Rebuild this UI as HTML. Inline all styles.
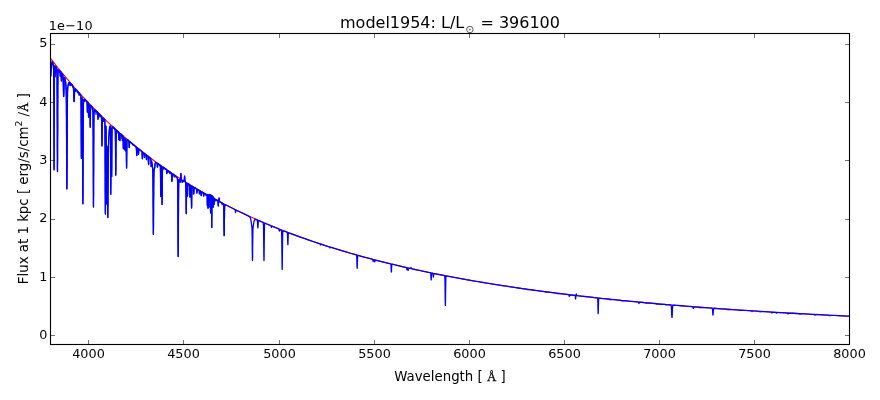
<!DOCTYPE html>
<html lang="en"><head><meta charset="utf-8"><title>model1954 spectrum</title>
<style>html,body{margin:0;padding:0;background:#fff;}body{width:880px;height:400px;overflow:hidden;}svg{display:block;}</style></head>
<body>
<svg width="880" height="400" viewBox="0 0 880 400">
<rect x="0" y="0" width="880" height="400" fill="#ffffff"/>
<defs><clipPath id="ax"><rect x="50.50" y="33.50" width="799.00" height="311.00"/></clipPath></defs>
<g clip-path="url(#ax)" fill="none" stroke-linejoin="round" stroke-linecap="butt">
<polyline points="50.5,58.29 54.5,63.45 58.5,68.48 62.5,73.40 66.5,78.21 70.5,82.91 74.5,87.51 78.5,92.00 82.5,96.39 86.5,100.69 90.5,104.89 94.5,108.99 98.5,113.01 102.5,116.94 106.5,120.78 110.5,124.54 114.5,128.22 118.5,131.82 122.5,135.34 126.5,138.78 130.5,142.16 134.5,145.46 138.5,148.69 142.5,151.86 146.5,154.95 150.5,157.99 154.5,160.96 158.5,163.87 162.5,166.72 166.5,169.51 170.5,172.24 174.5,174.92 178.5,177.54 182.5,180.11 186.5,182.63 190.5,185.10 194.5,187.52 198.5,189.89 202.5,192.22 206.5,194.49 210.5,196.73 214.5,198.92 218.5,201.06 222.5,203.17 226.5,205.23 230.5,207.26 234.5,209.24 238.5,211.19 242.5,213.10 246.5,214.97 250.5,216.81 254.5,218.61 258.5,220.38 262.5,222.12 266.5,223.82 270.5,225.49 274.5,227.13 278.5,228.74 282.5,230.32 286.5,231.88 290.5,233.40 294.5,234.89 298.5,236.36 302.5,237.80 306.5,239.22 310.5,240.61 314.5,241.98 318.5,243.32 322.5,244.63 326.5,245.93 330.5,247.20 334.5,248.45 338.5,249.67 342.5,250.88 346.5,252.06 350.5,253.22 354.5,254.37 358.5,255.49 362.5,256.59 366.5,257.68 370.5,258.75 374.5,259.80 378.5,260.83 382.5,261.84 386.5,262.83 390.5,263.81 394.5,264.78 398.5,265.72 402.5,266.65 406.5,267.57 410.5,268.47 414.5,269.36 418.5,270.23 422.5,271.08 426.5,271.93 430.5,272.76 434.5,273.57 438.5,274.37 442.5,275.16 446.5,275.94 450.5,276.70 454.5,277.46 458.5,278.20 462.5,278.92 466.5,279.64 470.5,280.35 474.5,281.04 478.5,281.72 482.5,282.40 486.5,283.06 490.5,283.71 494.5,284.35 498.5,284.98 502.5,285.61 506.5,286.22 510.5,286.82 514.5,287.42 518.5,288.00 522.5,288.58 526.5,289.14 530.5,289.70 534.5,290.25 538.5,290.80 542.5,291.33 546.5,291.86 550.5,292.37 554.5,292.88 558.5,293.39 562.5,293.88 566.5,294.37 570.5,294.85 574.5,295.33 578.5,295.79 582.5,296.25 586.5,296.71 590.5,297.15 594.5,297.59 598.5,298.03 602.5,298.46 606.5,298.88 610.5,299.30 614.5,299.71 618.5,300.11 622.5,300.51 626.5,300.90 630.5,301.29 634.5,301.67 638.5,302.05 642.5,302.42 646.5,302.78 650.5,303.15 654.5,303.50 658.5,303.85 662.5,304.20 666.5,304.54 670.5,304.88 674.5,305.21 678.5,305.54 682.5,305.86 686.5,306.18 690.5,306.50 694.5,306.81 698.5,307.11 702.5,307.41 706.5,307.71 710.5,308.01 714.5,308.30 718.5,308.58 722.5,308.87 726.5,309.15 730.5,309.42 734.5,309.69 738.5,309.96 742.5,310.23 746.5,310.49 750.5,310.74 754.5,311.00 758.5,311.25 762.5,311.50 766.5,311.74 770.5,311.98 774.5,312.22 778.5,312.46 782.5,312.69 786.5,312.92 790.5,313.15 794.5,313.37 798.5,313.59 802.5,313.81 806.5,314.03 810.5,314.24 814.5,314.45 818.5,314.66 822.5,314.86 826.5,315.06 830.5,315.26 834.5,315.46 838.5,315.65 842.5,315.85 846.5,316.04 849.5,316.18" stroke="#ff0000" stroke-width="1.11"/>
<polyline points="50.5,75.87 50.5,76.16 50.6,76.31 50.6,76.31 50.7,76.16 50.7,75.87 50.8,74.90 50.9,73.52 51.1,70.99 51.3,67.51 51.4,65.31 51.5,64.16 51.6,63.27 51.8,62.38 51.9,61.93 52.1,61.78 52.5,62.13 53.1,63.40 53.4,64.14 53.5,64.33 53.5,64.63 53.6,65.25 53.6,66.55 53.7,69.22 53.7,74.24 53.8,82.76 53.8,95.62 53.9,112.70 53.9,132.30 54.0,151.04 54.0,164.71 54.1,169.78 54.1,164.85 54.2,151.31 54.2,132.70 54.3,113.24 54.3,96.29 54.4,83.56 54.4,75.18 54.5,70.30 54.5,67.76 54.6,66.59 54.6,66.12 54.7,65.94 55.0,65.95 55.6,66.43 56.3,67.36 56.7,68.30 56.8,68.76 56.9,69.27 56.9,70.23 57.0,71.99 57.0,75.07 57.1,80.11 57.1,87.78 57.2,98.50 57.2,112.18 57.3,127.95 57.3,144.09 57.4,158.28 57.4,168.06 57.5,171.59 57.5,168.17 57.6,158.50 57.6,144.43 57.7,128.40 57.7,112.74 57.8,99.18 57.8,88.58 57.9,81.02 57.9,76.09 58.0,73.12 58.0,71.47 58.1,70.63 58.1,70.23 58.2,69.98 58.9,70.11 59.9,70.87 60.9,72.00 61.0,72.32 61.0,72.62 61.1,73.08 61.1,73.76 61.2,74.68 61.2,75.85 61.3,78.56 61.4,79.77 61.4,80.63 61.5,80.97 61.5,80.75 61.6,80.02 61.6,78.93 61.7,76.47 61.8,75.43 61.8,74.62 61.9,74.07 61.9,73.73 62.0,73.49 62.3,73.71 62.7,74.38 62.8,74.93 62.9,75.66 63.0,76.22 63.0,76.94 63.1,77.87 63.1,79.03 63.2,80.43 63.2,82.08 63.3,83.94 63.4,90.22 63.5,92.21 63.5,93.94 63.6,95.29 63.6,96.17 63.7,96.53 63.7,96.32 63.8,95.58 63.8,94.37 63.9,92.79 63.9,90.95 64.1,85.12 64.1,83.41 64.2,81.92 64.2,80.67 64.3,79.68 64.3,78.91 64.4,78.36 64.4,77.98 64.5,77.61 64.7,77.64 64.9,78.33 65.2,79.39 65.4,80.81 65.7,82.59 65.9,84.29 66.0,85.39 66.0,86.09 66.1,87.00 66.1,88.20 66.2,89.86 66.2,92.16 66.3,95.32 66.3,99.58 66.4,105.16 66.4,112.21 66.5,120.77 66.5,130.70 66.6,141.65 66.6,153.06 66.7,164.16 66.7,174.09 66.8,181.98 66.8,187.08 66.9,188.87 66.9,187.19 67.0,182.21 67.0,174.44 67.1,164.62 67.1,153.64 67.2,142.35 67.2,131.51 67.3,121.69 67.3,113.25 67.4,106.31 67.4,100.85 67.5,96.71 67.5,93.66 67.6,91.48 67.6,89.93 67.7,88.84 67.7,88.06 67.8,87.46 67.9,86.60 68.1,85.08 68.4,83.94 68.6,83.15 68.9,82.63 69.3,82.47 70.0,82.85 71.9,84.91 73.0,86.32 73.2,86.84 73.3,87.37 73.4,88.27 73.5,88.91 73.5,89.71 73.6,90.68 73.6,91.80 73.7,94.47 73.8,97.35 73.9,98.70 73.9,99.88 74.0,100.80 74.0,101.41 74.1,101.65 74.1,101.52 74.2,101.03 74.2,100.22 74.3,99.15 74.4,96.59 74.5,93.97 74.5,92.81 74.6,91.80 74.6,90.95 74.7,90.26 74.7,89.73 74.8,89.05 74.9,88.75 75.1,88.67 76.5,89.98 79.8,93.83 80.7,95.08 80.8,95.24 80.8,95.53 80.9,96.12 80.9,97.29 81.0,99.45 81.0,103.17 81.1,108.95 81.1,117.06 81.2,127.19 81.2,138.24 81.3,148.44 81.3,155.71 81.4,158.42 81.4,155.91 81.5,148.82 81.5,138.82 81.6,127.96 81.6,118.03 81.7,110.12 81.7,104.53 81.8,101.03 81.8,99.07 81.9,98.12 81.9,97.75 82.0,97.69 82.0,97.81 82.1,98.05 82.1,98.44 82.2,99.06 82.2,100.08 82.3,101.71 82.3,104.28 82.4,108.17 82.4,113.76 82.5,121.40 82.5,131.22 82.6,143.10 82.6,156.45 82.7,170.32 82.7,183.38 82.8,194.16 82.8,201.29 82.9,203.82 82.9,201.40 83.0,194.37 83.0,183.71 83.1,170.76 83.1,157.00 83.2,143.75 83.2,131.98 83.3,122.26 83.3,114.74 83.4,109.25 83.4,105.48 83.5,103.01 83.5,101.49 83.6,100.58 83.6,100.06 83.7,99.77 83.8,99.45 84.3,99.35 85.2,99.80 86.8,101.32 86.9,101.53 87.0,101.78 87.0,102.24 87.1,103.03 87.1,104.28 87.2,106.01 87.3,110.10 87.3,111.62 87.4,112.22 87.4,111.72 87.5,110.31 87.6,106.42 87.6,104.79 87.7,103.64 87.7,102.95 87.8,102.59 87.9,102.42 88.1,102.64 88.1,102.81 88.2,103.13 88.2,103.73 88.3,104.80 88.3,106.49 88.4,108.83 88.5,114.35 88.5,116.41 88.6,117.20 88.6,116.51 88.7,114.57 88.8,109.25 88.8,107.03 88.9,105.48 88.9,104.59 89.0,104.28 89.0,104.45 89.1,105.09 89.1,106.23 89.2,107.86 89.3,111.71 89.3,113.15 89.4,113.72 89.4,113.26 89.5,111.93 89.6,108.30 89.6,106.80 89.7,105.80 89.7,105.34 89.8,105.40 89.8,106.02 89.9,107.30 89.9,109.38 90.0,112.30 90.0,115.96 90.1,119.96 90.1,123.64 90.2,126.28 90.2,127.27 90.3,126.39 90.3,123.86 90.4,120.29 90.4,116.41 90.5,112.86 90.5,110.04 90.6,108.05 90.6,106.80 90.7,106.11 90.7,105.78 90.8,105.63 91.8,106.87 92.7,108.27 92.8,108.55 92.8,108.81 92.9,109.29 92.9,110.19 93.0,111.86 93.0,114.79 93.1,119.60 93.1,126.92 93.2,137.16 93.2,150.22 93.3,165.28 93.3,180.71 93.4,194.26 93.4,203.61 93.5,206.98 93.5,203.71 93.6,194.47 93.6,181.02 93.7,165.69 93.7,150.73 93.8,137.77 93.8,127.64 93.9,120.42 93.9,115.71 94.0,112.88 94.0,111.32 94.1,110.52 94.1,110.14 94.2,109.92 95.0,110.16 96.4,111.22 97.5,112.28 97.6,112.55 97.6,112.85 97.7,113.37 97.7,114.17 97.8,115.27 97.9,117.86 97.9,118.83 98.0,119.22 98.0,118.93 98.1,118.06 98.2,115.66 98.2,114.66 98.3,113.96 98.3,113.54 98.4,113.33 98.5,113.29 100.6,115.53 101.3,116.45 101.4,116.76 101.4,117.08 101.5,117.61 101.5,118.52 101.6,119.98 101.6,122.16 101.7,125.20 101.7,129.06 101.8,138.04 101.9,142.04 101.9,144.81 102.0,145.83 102.0,144.91 102.1,142.24 102.1,138.35 102.2,129.57 102.3,125.81 102.3,122.88 102.4,120.80 102.4,119.44 102.5,118.64 102.5,118.20 102.6,117.99 102.7,117.89 103.7,118.68 104.6,119.65 104.7,119.88 104.7,120.11 104.8,120.56 104.8,121.41 104.9,122.99 104.9,125.79 105.0,130.38 105.0,137.37 105.1,147.14 105.1,159.62 105.2,174.01 105.2,188.77 105.3,201.75 105.3,210.74 105.4,214.06 105.4,211.09 105.5,202.44 105.5,189.81 105.6,175.41 105.6,161.39 105.7,149.30 105.7,139.93 105.8,133.38 105.8,129.27 105.9,127.06 105.9,126.24 106.0,126.50 106.0,127.76 106.1,130.20 106.1,134.16 106.2,140.05 106.2,148.16 106.3,158.40 106.3,170.17 106.4,182.24 106.4,192.96 106.5,200.60 106.5,203.86 106.6,202.23 106.6,196.22 106.7,187.14 106.7,176.73 106.8,166.65 106.8,158.15 106.9,151.88 106.9,147.96 107.0,146.14 107.0,146.05 107.1,147.34 107.1,149.73 107.2,153.09 107.2,157.33 107.3,162.43 107.3,168.32 107.4,174.91 107.4,182.01 107.5,196.60 107.6,203.34 107.6,209.16 107.7,213.67 107.7,216.53 107.8,217.54 107.8,216.62 107.9,213.85 107.9,209.44 108.0,203.72 108.0,197.07 108.1,182.67 108.2,175.66 108.2,169.15 108.3,163.33 108.3,158.28 108.4,154.00 108.4,150.45 108.5,147.55 108.5,145.19 108.6,143.27 108.6,141.68 108.7,140.34 108.7,139.18 108.8,137.22 109.0,134.76 109.1,132.65 109.3,130.84 109.4,129.33 109.6,128.14 109.8,126.97 110.0,126.22 110.1,125.91 110.2,125.92 110.2,126.09 110.3,126.60 110.3,127.75 110.4,130.01 110.4,133.98 110.5,140.25 110.5,149.08 110.6,160.15 110.6,172.23 110.7,183.38 110.7,191.31 110.8,194.19 110.8,191.33 110.9,183.43 110.9,172.31 111.0,160.25 111.0,149.21 111.1,140.40 111.1,134.20 111.2,130.38 111.2,128.51 111.3,128.30 111.3,129.74 111.4,133.16 111.4,138.93 111.5,147.10 111.5,156.88 111.6,166.53 111.6,173.71 111.7,176.40 111.7,173.78 111.8,166.67 111.8,157.10 111.9,147.39 111.9,139.26 112.0,133.46 112.0,129.87 112.1,127.93 112.1,127.02 112.2,126.66 112.3,126.54 115.0,128.88 115.1,129.08 115.2,129.30 115.2,129.72 115.3,130.51 115.3,131.88 115.4,134.14 115.4,137.57 115.5,142.36 115.5,148.49 115.6,155.55 115.6,162.78 115.7,169.14 115.7,173.53 115.8,175.12 115.8,173.62 115.9,169.31 115.9,163.04 116.0,155.90 116.0,148.93 116.1,142.89 116.1,138.19 116.2,134.84 116.2,132.68 116.3,131.39 116.3,130.70 116.4,130.36 116.5,130.19 118.4,131.88 118.5,132.17 118.5,132.51 118.6,133.08 118.6,133.98 118.7,135.21 118.8,138.13 118.8,139.22 118.9,139.65 118.9,139.31 119.0,138.32 119.1,135.60 119.1,134.47 119.2,133.67 119.2,133.21 119.3,133.00 119.3,132.97 119.4,133.08 119.4,133.33 119.5,133.73 119.5,134.32 119.6,135.14 119.6,136.17 119.7,138.55 119.8,139.62 119.8,140.36 119.9,140.66 119.9,140.45 120.0,139.79 120.0,138.81 120.1,136.60 120.2,135.66 120.2,134.93 120.3,134.42 120.3,134.10 120.4,133.84 120.8,134.00 122.8,135.68 122.9,135.91 122.9,136.17 123.0,136.63 123.0,137.39 123.1,138.57 123.1,140.21 123.2,142.25 123.2,144.47 123.3,146.52 123.3,147.99 123.4,148.55 123.4,148.08 123.5,146.69 123.5,144.73 123.6,142.60 123.6,140.66 123.7,139.15 123.7,138.16 123.8,137.70 123.8,137.73 123.9,138.27 123.9,139.32 124.0,140.88 124.0,142.87 124.1,145.04 124.1,147.05 124.2,148.49 124.2,149.04 124.3,148.58 124.3,147.22 124.4,145.30 124.4,143.21 124.5,141.31 124.5,139.83 124.6,138.87 124.6,138.42 124.7,138.47 124.7,139.02 124.8,140.10 124.8,141.70 124.9,143.73 124.9,145.95 125.0,148.00 125.0,149.48 125.1,150.04 125.1,149.56 125.2,148.17 125.2,146.20 125.3,144.07 125.3,142.12 125.4,140.60 125.4,139.61 125.5,139.17 125.5,139.30 125.6,140.04 125.6,141.46 125.7,143.52 125.8,148.48 125.8,150.34 125.9,151.07 125.9,150.49 126.0,148.84 126.0,146.70 126.1,144.75 126.1,143.58 126.2,143.55 126.2,144.84 126.3,147.42 126.3,151.11 126.4,155.53 126.4,160.12 126.5,164.19 126.5,167.00 126.6,168.03 126.6,167.08 126.7,164.35 126.7,160.36 126.8,151.37 126.9,147.53 126.9,144.54 127.0,142.42 127.0,141.05 127.1,140.24 127.1,139.81 127.2,139.61 127.3,139.55 128.7,140.71 128.8,140.96 128.8,141.22 128.9,141.63 128.9,142.26 129.0,143.12 129.1,146.44 129.2,147.22 129.2,147.53 129.3,147.30 129.3,146.61 129.5,143.54 129.5,142.76 129.6,142.22 129.6,141.89 129.7,141.65 130.3,142.02 134.3,145.32 136.1,146.88 136.2,147.17 136.3,147.45 136.3,147.89 136.4,148.55 136.4,149.46 136.5,150.61 136.6,153.28 136.6,154.47 136.7,155.30 136.7,155.62 136.8,155.38 136.8,154.63 136.9,153.52 137.0,151.01 137.0,149.94 137.1,149.12 137.1,148.54 137.2,148.18 137.3,147.88 137.5,147.96 138.0,148.40 138.1,148.77 138.1,149.14 138.2,149.70 138.2,150.48 138.4,153.45 138.4,154.15 138.5,154.42 138.5,154.23 138.6,153.61 138.7,150.88 138.8,150.18 138.8,149.70 138.9,149.41 139.0,149.20 139.7,149.71 141.8,151.42 141.9,151.67 142.0,151.95 142.0,152.39 142.1,153.07 142.1,154.01 142.3,157.61 142.3,158.45 142.4,158.78 142.4,158.53 142.5,157.76 142.6,154.40 142.7,153.54 142.7,152.94 142.8,152.58 142.9,152.30 143.3,152.52 144.0,153.15 144.1,153.47 144.2,153.80 144.2,154.32 144.3,155.02 144.4,156.67 144.4,157.29 144.5,157.54 144.5,157.36 144.6,156.82 144.7,155.33 144.7,154.71 144.8,154.27 144.8,154.02 144.9,153.86 146.0,154.72 146.1,155.06 146.2,155.43 146.2,155.99 146.3,156.77 146.4,158.60 146.4,159.28 146.5,159.56 146.5,159.36 146.6,158.75 146.7,157.08 146.7,156.38 146.8,155.90 146.8,155.61 146.9,155.42 148.0,156.24 148.1,156.51 148.1,156.78 148.2,157.20 148.2,157.82 148.3,158.68 148.3,159.76 148.4,162.29 148.5,163.41 148.5,164.20 148.6,164.51 148.6,164.28 148.7,163.57 148.7,162.52 148.8,160.16 148.9,159.16 148.9,158.38 149.0,157.84 149.0,157.50 149.1,157.22 149.4,157.35 150.6,158.42 150.7,158.83 150.8,159.13 150.8,159.62 150.9,160.35 150.9,161.35 151.1,165.19 151.1,166.12 151.2,166.54 151.2,166.37 151.3,165.69 151.4,162.65 151.5,161.92 151.5,161.47 151.6,161.28 151.6,161.27 151.7,161.60 151.9,162.77 152.2,164.64 152.5,167.73 152.7,169.28 152.7,169.97 152.8,170.90 152.8,172.23 152.9,174.20 152.9,177.10 153.0,181.23 153.0,186.82 153.1,193.93 153.1,202.30 153.2,211.35 153.2,220.15 153.3,227.60 153.3,232.62 153.4,234.41 153.4,232.69 153.5,227.75 153.5,220.37 153.6,211.64 153.6,202.67 153.7,194.37 153.7,187.34 153.8,181.82 153.8,177.77 153.9,174.94 153.9,173.04 154.0,171.78 154.0,170.93 154.1,170.31 154.2,168.99 154.6,166.41 154.8,164.91 155.1,163.81 155.3,163.10 155.6,162.66 156.1,162.53 156.9,162.93 157.0,163.23 157.1,163.76 157.2,164.74 157.4,166.58 157.4,166.98 157.5,167.14 157.5,167.04 157.6,166.71 157.8,164.60 157.9,163.98 158.0,163.75 158.3,163.83 160.2,165.22 160.2,165.36 160.3,165.65 160.3,166.23 160.4,167.30 160.4,169.14 160.5,172.01 160.5,176.04 160.6,181.07 160.6,186.56 160.7,191.62 160.7,195.23 160.8,196.56 160.8,195.30 160.9,191.76 160.9,186.77 161.0,181.35 161.0,176.39 161.1,172.43 161.1,169.63 161.2,167.86 161.2,166.86 161.3,166.36 161.3,166.15 161.4,166.16 161.5,166.33 161.5,166.68 161.6,167.33 161.6,168.47 161.7,170.35 161.7,173.20 161.8,177.19 161.8,182.29 161.9,188.16 161.9,194.18 162.0,199.47 162.0,203.12 162.1,204.45 162.1,203.19 162.2,199.61 162.2,194.39 162.3,188.44 162.3,182.64 162.4,177.61 162.4,173.69 162.5,170.91 162.5,169.10 162.6,168.03 162.6,167.45 162.7,167.17 162.8,167.02 166.8,169.77 167.0,170.08 167.1,170.43 167.2,171.05 167.4,172.19 167.4,172.44 167.5,172.55 167.5,172.51 167.6,172.04 167.8,171.12 167.9,170.78 168.0,170.67 171.2,172.84 171.3,173.17 171.4,173.41 171.4,173.78 171.5,174.31 171.5,175.04 171.6,175.97 171.7,179.43 171.8,180.42 171.8,181.10 171.9,181.37 171.9,181.17 172.0,180.56 172.0,179.64 172.2,176.39 172.2,175.53 172.3,174.88 172.3,174.41 172.4,174.12 172.5,173.86 172.8,173.94 175.4,175.96 176.6,177.24 177.3,178.26 177.4,178.54 177.4,178.80 177.5,179.22 177.5,179.92 177.6,181.09 177.6,182.95 177.7,185.78 177.7,189.88 177.8,195.51 177.8,202.76 177.9,211.54 177.9,221.42 178.0,231.70 178.0,241.37 178.1,249.36 178.1,254.64 178.2,256.51 178.2,254.70 178.3,249.49 178.3,241.57 178.4,231.96 178.4,221.75 178.5,211.93 178.5,203.21 178.6,196.02 178.6,190.47 178.7,186.43 178.7,183.66 178.8,181.87 178.8,180.77 178.9,180.13 178.9,179.77 179.0,179.48 179.6,179.32 180.3,179.30 180.4,179.05 180.5,178.77 180.5,178.33 180.6,177.71 180.6,176.91 180.7,175.05 180.8,174.22 180.8,173.66 180.9,173.47 180.9,173.70 181.0,174.30 181.1,176.14 181.1,177.10 181.2,177.94 181.2,178.59 181.3,179.07 181.4,179.58 181.6,179.87 181.8,180.09 181.9,180.63 182.1,181.93 182.2,182.15 182.2,182.24 182.3,182.20 182.4,181.78 182.5,180.95 182.7,180.57 183.0,180.64 184.0,181.16 184.1,181.08 184.2,180.72 184.2,180.35 184.3,179.81 184.4,178.30 184.5,176.75 184.5,176.26 184.6,176.11 184.6,176.32 184.7,176.87 184.8,178.54 184.9,180.17 184.9,180.76 185.0,181.20 185.1,181.68 185.3,181.97 185.6,182.24 185.6,182.40 185.7,182.68 185.7,183.22 185.8,184.15 185.8,185.69 185.9,188.02 185.9,191.29 186.0,195.45 186.1,205.17 186.1,209.50 186.2,212.49 186.2,213.57 186.3,212.55 186.3,209.62 186.4,205.36 186.5,195.75 186.5,191.65 186.6,188.45 186.6,186.17 186.7,184.70 186.7,183.83 186.8,183.36 186.8,183.14 186.9,183.08 187.0,183.20 187.0,183.44 187.1,183.89 187.1,184.67 187.2,185.86 187.2,187.54 187.3,189.62 187.3,191.89 187.4,193.99 187.4,195.49 187.5,196.06 187.5,195.55 187.6,194.11 187.6,192.08 187.7,189.86 187.7,187.84 187.8,186.23 187.8,185.09 187.9,184.38 187.9,183.98 188.0,183.72 189.1,184.32 189.4,184.55 189.5,184.91 189.5,185.30 189.6,185.92 189.6,186.86 189.7,188.16 189.7,189.82 189.8,193.68 189.9,195.40 189.9,196.59 190.0,197.04 190.0,196.65 190.1,195.52 190.1,193.86 190.2,190.12 190.3,188.52 190.3,187.28 190.4,186.41 190.4,185.84 190.5,185.52 190.6,185.28 190.9,185.40 191.0,185.59 191.0,185.81 191.1,186.20 191.1,186.87 191.2,187.98 191.2,189.66 191.3,192.01 191.3,195.00 191.4,201.99 191.5,205.09 191.5,207.24 191.6,208.03 191.6,207.30 191.7,205.21 191.7,202.17 191.8,195.30 191.9,192.37 191.9,190.09 192.0,188.47 192.0,187.42 192.1,186.80 192.1,186.47 192.2,186.26 193.1,186.78 193.2,187.01 193.3,187.24 193.3,187.61 193.4,188.15 193.4,188.91 193.5,189.86 193.6,192.08 193.6,193.07 193.7,193.76 193.7,194.02 193.8,193.82 193.8,193.19 193.9,192.26 194.0,190.16 194.0,189.26 194.1,188.57 194.1,188.09 194.2,187.78 194.3,187.53 194.7,187.66 196.3,188.70 196.4,188.95 196.5,189.50 196.6,190.52 196.8,192.43 196.8,192.85 196.9,193.02 196.9,192.91 197.0,192.55 197.2,190.31 197.2,189.91 197.3,189.48 197.5,189.35 200.7,191.25 200.8,191.49 200.9,192.06 201.0,193.09 201.1,195.02 201.2,195.44 201.2,195.61 201.3,195.50 201.3,195.14 201.5,192.86 201.6,192.46 201.7,192.01 201.8,191.88 203.2,192.67 203.3,193.05 203.4,193.65 203.6,195.56 203.7,195.88 203.7,196.01 203.8,195.93 203.8,195.67 204.0,194.00 204.1,193.51 204.3,193.30 207.1,194.74 207.1,195.02 207.2,195.89 207.2,197.87 207.3,204.31 207.4,205.74 207.4,204.33 207.5,197.93 207.6,195.97 207.6,195.14 207.7,194.95 207.7,195.22 207.8,196.25 207.8,198.65 207.9,206.47 208.0,208.20 208.0,206.47 208.1,198.64 208.2,196.24 208.2,195.19 208.3,194.86 208.3,194.78 208.4,194.83 208.4,195.12 208.5,196.07 208.5,198.25 208.6,205.38 208.7,206.96 208.7,205.36 208.8,198.18 208.9,195.97 208.9,195.02 209.0,194.77 209.0,194.98 209.1,195.89 209.1,198.00 209.2,204.94 209.3,206.48 209.3,204.93 209.4,197.95 209.5,195.81 209.5,194.88 209.6,194.58 209.7,194.58 209.7,194.89 209.8,195.86 209.8,198.10 209.9,205.43 210.0,207.06 210.0,205.45 210.1,198.15 210.2,195.93 210.2,194.99 210.3,194.80 210.3,195.19 210.4,196.62 210.4,199.89 210.5,205.14 210.5,210.56 210.6,212.94 210.6,210.61 210.7,205.25 210.7,200.04 210.8,196.82 210.8,195.45 210.9,195.10 210.9,195.32 211.0,196.26 211.0,198.41 211.1,205.40 211.2,206.98 211.2,205.47 211.3,198.60 211.4,196.52 211.4,195.66 211.5,195.58 211.5,196.33 211.6,198.84 211.6,204.57 211.7,213.78 211.7,223.27 211.8,227.44 211.8,223.34 211.9,213.92 211.9,204.78 212.0,199.11 212.0,196.67 212.1,195.92 212.1,195.78 212.3,195.95 212.3,196.26 212.4,197.14 212.4,199.09 212.5,205.39 212.6,206.83 212.6,205.51 212.7,199.45 212.8,197.62 212.8,196.87 212.9,196.68 213.0,196.84 213.1,196.98 213.1,197.29 213.2,198.12 213.2,199.93 213.3,205.73 213.4,207.06 213.4,205.89 213.5,200.40 213.6,198.75 213.6,198.07 213.7,197.90 213.9,198.15 213.9,198.36 214.0,198.87 214.0,199.95 214.1,203.42 214.2,204.22 214.2,203.53 214.3,200.28 214.4,199.30 214.4,198.90 214.5,198.82 214.7,199.03 214.8,199.21 214.8,199.57 214.9,200.69 215.0,200.96 215.0,200.76 215.1,199.76 215.2,199.47 215.3,199.35 217.8,200.79 217.9,201.13 218.0,201.52 218.0,202.13 218.1,202.98 218.2,204.97 218.2,205.72 218.3,206.01 218.3,205.77 218.4,205.08 218.5,203.19 218.5,202.40 218.6,201.83 218.6,201.46 218.8,200.77 218.8,200.39 218.9,199.23 219.0,198.61 219.0,198.16 219.1,198.01 219.1,198.21 219.2,198.72 219.3,200.07 219.3,200.65 219.4,201.06 219.5,201.49 219.8,201.76 223.4,203.72 223.5,203.97 223.6,204.26 223.6,204.76 223.7,205.60 223.7,206.93 223.8,208.90 223.8,211.64 223.9,215.16 223.9,219.36 224.0,228.37 224.1,232.14 224.1,234.69 224.2,235.61 224.2,234.74 224.3,232.25 224.3,228.52 224.4,219.61 224.5,215.47 224.5,212.00 224.6,209.32 224.6,207.40 224.7,206.12 224.7,205.33 224.8,204.88 224.8,204.64 225.0,204.49 226.0,204.98" stroke="#0000ff" stroke-width="1.11"/>
<polyline points="50.5,75.87 50.5,76.17 50.6,76.31 50.7,76.28 50.7,76.15 50.8,75.81 50.8,75.33 50.9,74.70 51.0,74.02 51.0,72.77 51.1,71.37 51.1,70.20 51.2,68.34 51.4,65.99 51.5,64.70 51.6,63.68 51.7,62.92 51.8,62.19 52.0,61.85 52.2,61.80 52.3,61.98 52.3,62.41 52.4,63.32 52.4,64.41 52.5,64.80 52.5,64.15 52.6,63.21 52.6,62.74 52.7,62.78 52.7,63.22 52.8,64.92 52.9,65.26 52.9,64.71 53.0,63.89 53.0,63.43 53.1,63.36 53.1,63.57 53.2,64.24 53.2,65.69 53.3,67.47 53.3,68.16 53.4,67.16 53.4,65.72 53.5,65.20 53.5,65.96 53.6,67.76 53.6,69.94 53.7,72.26 53.7,76.10 53.8,83.56 53.8,95.87 53.9,112.76 53.9,132.31 54.0,151.04 54.0,164.71 54.1,169.78 54.1,164.85 54.2,151.31 54.2,132.70 54.3,113.24 54.3,96.29 54.4,83.56 54.4,75.18 54.5,70.30 54.5,67.76 54.6,66.60 54.6,66.12 54.7,65.95 54.9,65.98 55.0,66.15 55.0,66.99 55.1,69.42 55.1,73.50 55.2,76.80 55.2,76.62 55.3,73.63 55.3,70.30 55.4,67.99 55.4,66.82 55.5,66.41 55.6,66.38 56.1,67.06 56.2,67.74 56.3,67.80 56.4,68.02 56.4,68.95 56.5,70.65 56.5,72.03 56.6,71.79 56.6,70.30 56.7,69.00 56.7,68.50 56.8,68.54 56.8,68.91 56.9,69.74 56.9,71.22 57.0,73.42 57.0,76.56 57.1,81.27 57.1,88.50 57.2,98.95 57.2,112.52 57.3,128.21 57.3,144.28 57.4,158.39 57.4,168.10 57.5,171.59 57.5,168.19 57.6,158.54 57.6,144.45 57.7,128.41 57.7,112.75 57.8,99.18 57.8,88.58 57.9,81.07 57.9,76.27 58.0,73.57 58.0,72.16 58.1,71.29 58.1,70.62 58.2,70.20 58.2,70.02 58.3,69.98 58.4,70.26 58.5,70.46 58.5,70.50 58.6,70.17 58.7,70.13 58.7,70.29 58.8,70.84 58.9,70.80 59.0,70.31 59.1,70.22 59.3,70.44 59.3,70.68 59.4,71.29 59.5,71.23 59.6,70.80 59.6,70.97 59.7,71.61 59.7,72.54 59.8,73.06 59.8,72.68 59.9,71.96 59.9,71.87 60.0,72.93 60.0,74.78 60.1,76.16 60.1,76.19 60.2,75.18 60.2,73.77 60.3,72.50 60.3,71.82 60.4,71.78 60.5,72.39 60.5,72.33 60.6,71.81 60.7,71.78 60.9,72.05 60.9,72.31 61.1,73.48 61.1,73.96 61.2,74.75 61.2,75.88 61.3,78.64 61.4,79.83 61.4,80.64 61.5,80.97 61.5,80.75 61.6,80.03 61.6,78.94 61.7,76.63 61.8,75.81 61.9,74.00 62.0,73.65 62.1,73.49 62.6,74.17 62.8,74.70 62.9,75.25 62.9,75.66 63.0,76.22 63.0,76.94 63.1,77.87 63.1,79.03 63.2,80.43 63.2,82.08 63.3,83.95 63.4,88.15 63.4,90.33 63.5,92.37 63.5,94.08 63.6,95.35 63.6,96.18 63.7,96.53 63.7,96.32 63.8,95.58 63.8,94.37 63.9,92.79 64.0,89.03 64.1,85.28 64.1,83.55 64.2,82.00 64.2,80.70 64.3,79.68 64.3,78.92 64.4,78.36 64.4,77.98 64.5,77.61 64.7,77.64 64.9,78.33 65.2,79.39 65.4,80.81 65.7,82.60 65.7,83.10 65.8,83.98 65.8,85.65 65.9,87.93 65.9,89.45 66.0,89.17 66.0,88.05 66.1,87.64 66.1,88.34 66.2,89.88 66.2,92.16 66.3,95.32 66.3,99.58 66.4,105.16 66.4,112.21 66.5,120.77 66.5,130.70 66.6,141.65 66.6,153.06 66.7,164.16 66.7,174.09 66.8,181.98 66.8,187.08 66.9,188.87 66.9,187.20 67.0,182.24 67.0,174.49 67.1,164.67 67.1,153.66 67.2,142.35 67.2,131.51 67.3,121.69 67.3,113.25 67.4,106.31 67.4,100.85 67.5,96.71 67.5,93.66 67.6,91.48 67.6,89.93 67.7,88.84 67.7,88.06 67.8,87.47 67.9,86.66 68.1,85.74 68.2,85.85 68.2,85.66 68.3,84.46 68.4,84.03 68.5,83.43 68.7,82.94 68.8,82.90 68.8,83.01 68.9,83.40 68.9,83.94 69.0,84.27 69.0,84.11 69.1,83.14 69.2,83.04 69.3,83.62 69.3,83.78 69.4,83.62 69.5,82.86 69.5,82.86 69.6,83.41 69.6,84.44 69.7,85.25 69.7,85.05 69.8,84.09 69.8,83.25 69.9,82.89 70.0,82.85 70.4,83.26 70.4,83.46 70.5,83.88 70.5,84.45 70.6,84.76 70.6,84.53 70.7,84.06 70.7,83.76 70.8,83.67 70.9,83.86 70.9,84.26 71.0,85.62 71.1,85.65 71.2,84.50 71.2,84.23 71.4,84.28 72.5,85.66 72.6,85.86 72.6,86.28 72.7,86.86 72.7,87.21 72.8,87.03 72.8,86.58 72.9,86.27 73.0,86.24 73.2,86.66 73.3,87.07 73.4,87.76 73.4,88.27 73.5,88.91 73.5,89.71 73.6,90.68 73.6,91.80 73.7,94.47 73.9,98.91 73.9,100.12 74.0,100.94 74.0,101.44 74.1,101.65 74.1,101.53 74.2,101.05 74.2,100.26 74.3,99.22 74.4,96.62 74.5,93.98 74.5,92.81 74.6,91.80 74.6,90.95 74.7,90.26 74.7,89.73 74.8,89.05 74.9,88.75 75.1,88.67 75.3,88.81 75.3,89.02 75.4,89.50 75.5,90.83 75.5,91.14 75.6,91.21 75.6,90.99 75.7,89.83 75.8,89.46 75.8,89.35 76.7,90.27 76.8,90.57 76.9,91.13 77.0,91.13 77.1,90.78 77.2,90.81 77.4,91.05 77.5,91.20 77.5,91.57 77.6,92.76 77.7,92.76 77.8,91.78 77.8,91.57 78.1,91.76 78.7,92.52 78.8,92.64 78.8,92.98 78.9,93.72 78.9,94.70 79.0,95.17 79.0,94.70 79.1,93.83 79.1,93.27 79.2,93.10 79.8,93.84 79.9,93.96 79.9,94.21 80.0,95.11 80.1,95.21 80.2,94.57 80.2,94.42 80.6,94.82 80.8,95.24 80.8,95.53 80.9,96.12 80.9,97.29 81.0,99.45 81.0,103.17 81.1,108.95 81.1,117.06 81.2,127.19 81.2,138.25 81.3,148.45 81.3,155.73 81.4,158.42 81.4,155.93 81.5,148.89 81.5,138.89 81.6,128.01 81.6,118.05 81.7,110.12 81.7,104.53 81.8,101.03 81.8,99.07 81.9,98.12 81.9,97.75 82.0,97.69 82.0,97.81 82.1,98.05 82.1,98.44 82.2,99.07 82.2,100.10 82.3,101.77 82.3,104.37 82.4,108.27 82.4,113.92 82.5,121.64 82.5,131.53 82.6,143.40 82.6,156.72 82.7,170.51 82.7,183.47 82.8,194.18 82.8,201.29 82.9,203.82 82.9,201.40 83.0,194.37 83.0,183.71 83.1,170.76 83.1,157.00 83.2,143.75 83.2,131.98 83.3,122.26 83.3,114.74 83.4,109.25 83.4,105.48 83.5,103.01 83.5,101.49 83.6,100.58 83.6,100.06 83.7,99.77 83.8,99.45 84.3,99.36 84.5,99.42 84.6,99.52 84.6,99.81 84.7,101.19 84.8,101.42 84.8,100.91 84.9,100.21 84.9,99.81 85.0,99.70 86.7,101.16 86.9,101.40 87.0,101.78 87.0,102.24 87.1,103.03 87.1,104.28 87.2,106.01 87.3,110.10 87.3,111.62 87.4,112.22 87.4,111.72 87.5,110.31 87.6,106.47 87.6,104.93 87.7,103.96 87.7,103.49 87.9,102.61 88.0,102.50 88.1,102.64 88.1,102.81 88.2,103.13 88.2,103.73 88.3,104.80 88.3,106.49 88.4,108.83 88.5,114.35 88.5,116.41 88.6,117.20 88.6,116.51 88.7,114.57 88.8,109.25 88.8,107.03 88.9,105.48 88.9,104.59 89.0,104.28 89.0,104.45 89.1,105.09 89.1,106.23 89.2,107.86 89.3,111.71 89.3,113.15 89.4,113.72 89.4,113.26 89.5,111.93 89.6,108.31 89.6,106.82 89.7,105.82 89.7,105.35 89.8,105.40 89.8,106.03 89.9,107.32 89.9,109.42 90.0,112.39 90.0,116.05 90.1,120.01 90.1,123.65 90.2,126.28 90.2,127.27 90.3,126.39 90.3,123.86 90.4,120.29 90.4,116.41 90.5,112.86 90.5,110.04 90.6,108.05 90.6,106.80 90.7,106.11 90.7,105.78 90.8,105.63 91.3,106.23 91.5,106.61 91.7,106.73 92.1,107.26 92.1,107.40 92.2,107.73 92.2,108.39 92.3,109.21 92.3,109.54 92.4,109.13 92.4,108.47 92.5,108.10 92.5,108.03 92.7,108.40 92.8,108.58 92.8,108.92 92.9,109.51 92.9,110.49 93.0,112.12 93.0,114.93 93.1,119.65 93.1,126.93 93.2,137.16 93.2,150.22 93.3,165.28 93.3,180.71 93.4,194.26 93.4,203.61 93.5,206.98 93.5,203.71 93.6,194.47 93.6,181.02 93.7,165.69 93.7,150.73 93.8,137.77 93.8,127.64 93.9,120.42 93.9,115.71 94.0,112.88 94.0,111.32 94.1,110.56 94.1,110.33 94.2,110.48 94.3,111.13 94.3,111.00 94.4,110.19 94.5,110.02 94.9,110.11 95.1,110.32 95.2,111.15 95.3,111.22 95.4,110.90 95.5,110.56 95.8,110.73 95.8,110.88 95.9,111.34 95.9,112.41 96.0,113.75 96.0,114.29 96.1,113.50 96.1,112.23 96.2,111.42 96.2,111.16 96.7,111.49 97.5,112.28 97.6,112.55 97.6,112.85 97.7,113.37 97.7,114.17 97.8,115.27 97.9,117.86 97.9,118.83 98.0,119.22 98.0,118.93 98.1,118.06 98.2,115.66 98.2,114.66 98.3,113.96 98.3,113.54 98.4,113.33 98.5,113.29 99.6,114.39 99.6,114.60 99.7,115.15 99.7,116.11 99.8,116.95 99.8,116.89 99.9,115.28 100.0,114.92 100.1,114.90 101.2,116.27 101.3,116.58 101.4,116.76 101.4,117.08 101.5,117.61 101.5,118.52 101.6,119.98 101.6,122.17 101.7,125.23 101.7,129.12 101.8,138.08 101.9,142.05 101.9,144.81 102.0,145.83 102.0,144.91 102.1,142.24 102.1,138.35 102.2,129.57 102.3,125.81 102.3,122.88 102.4,120.80 102.4,119.44 102.5,118.64 102.5,118.20 102.6,117.99 102.7,117.89 102.7,117.92 102.8,118.08 102.8,118.56 102.9,119.40 102.9,120.12 103.0,120.03 103.1,118.57 103.1,118.26 103.3,118.27 103.4,118.42 103.5,118.56 103.5,118.98 103.6,119.90 103.6,121.03 103.7,121.45 103.7,120.78 103.8,119.75 103.8,119.14 103.9,119.01 104.2,119.21 104.6,119.74 104.7,120.11 104.8,120.56 104.8,121.41 104.9,122.99 104.9,125.79 105.0,130.38 105.0,137.37 105.1,147.14 105.1,159.62 105.2,174.01 105.2,188.77 105.3,201.75 105.3,210.74 105.4,214.06 105.4,211.09 105.5,202.44 105.5,189.81 105.6,175.41 105.6,161.39 105.7,149.30 105.7,139.94 105.8,133.39 105.8,129.28 105.9,127.07 105.9,126.24 106.0,126.50 106.0,127.76 106.1,130.20 106.1,134.16 106.2,140.05 106.2,148.16 106.3,158.40 106.3,170.17 106.4,182.24 106.4,192.96 106.5,200.60 106.5,203.86 106.6,202.23 106.6,196.22 106.7,187.15 106.7,176.73 106.8,166.66 106.8,158.16 106.9,151.92 106.9,148.07 107.0,146.35 107.0,146.34 107.1,147.67 107.1,150.11 107.2,153.41 107.2,157.52 107.3,162.50 107.3,168.34 107.4,174.91 107.4,182.01 107.5,196.60 107.6,203.35 107.6,209.17 107.7,213.67 107.7,216.53 107.8,217.54 107.8,216.63 107.9,213.86 107.9,209.44 108.0,203.72 108.0,197.07 108.1,182.67 108.2,175.66 108.2,169.15 108.3,163.33 108.3,158.28 108.4,154.00 108.4,150.45 108.5,147.55 108.5,145.19 108.6,143.27 108.6,141.71 108.7,140.43 108.8,138.40 108.9,136.80 108.9,136.06 109.1,133.40 109.2,132.09 109.3,130.56 109.4,129.39 109.6,128.14 109.8,126.97 110.0,126.22 110.1,125.91 110.2,125.92 110.2,126.09 110.3,126.60 110.3,127.75 110.4,130.01 110.4,133.98 110.5,140.25 110.5,149.08 110.6,160.15 110.6,172.23 110.7,183.38 110.7,191.31 110.8,194.19 110.8,191.33 110.9,183.43 110.9,172.31 111.0,160.25 111.0,149.21 111.1,140.44 111.1,134.32 111.2,130.65 111.2,128.88 111.3,128.63 111.3,129.94 111.4,133.25 111.4,138.99 111.5,147.15 111.5,156.91 111.6,166.54 111.6,173.71 111.7,176.40 111.7,173.79 111.8,166.69 111.8,157.13 111.9,147.41 111.9,139.27 112.0,133.46 112.0,129.87 112.1,127.93 112.1,127.02 112.2,126.66 112.3,126.54 113.5,127.57 113.6,127.85 113.7,128.30 113.8,128.26 113.9,127.95 114.1,128.07 114.4,128.38 114.4,128.66 114.5,129.46 114.6,129.41 114.7,128.76 114.8,128.65 115.1,128.95 115.2,129.30 115.2,129.72 115.3,130.51 115.3,131.88 115.4,134.14 115.4,137.57 115.5,142.37 115.5,148.49 115.6,155.55 115.6,162.78 115.7,169.14 115.7,173.53 115.8,175.12 115.8,173.62 115.9,169.31 115.9,163.04 116.0,155.90 116.0,148.93 116.1,142.89 116.1,138.19 116.2,134.84 116.2,132.68 116.3,131.39 116.3,130.70 116.4,130.36 116.4,130.24 116.5,130.29 116.5,130.68 116.6,131.62 116.6,132.83 116.7,133.32 116.7,132.60 116.8,131.47 116.8,130.77 116.9,130.56 117.2,130.86 117.4,131.34 117.6,131.13 118.0,131.55 118.1,131.70 118.2,132.43 118.2,132.67 118.3,132.51 118.3,132.19 118.4,132.00 118.4,132.01 118.5,132.17 118.5,132.51 118.6,133.08 118.6,133.98 118.7,135.21 118.8,138.13 118.8,139.22 118.9,139.65 118.9,139.31 119.0,138.32 119.1,135.62 119.1,134.48 119.2,133.68 119.2,133.21 119.3,133.00 119.3,132.97 119.4,133.08 119.4,133.33 119.5,133.73 119.5,134.32 119.6,135.14 119.6,136.17 119.7,138.55 119.8,139.62 119.8,140.36 119.9,140.66 119.9,140.45 120.0,139.79 120.0,138.81 120.1,136.60 120.2,135.66 120.2,134.93 120.3,134.42 120.3,134.10 120.4,133.84 120.8,134.00 121.6,134.73 121.7,134.99 121.7,135.74 121.8,137.14 121.8,138.40 121.9,138.37 122.0,135.85 122.0,135.25 122.1,135.18 122.1,135.53 122.2,136.66 122.2,138.69 122.3,140.49 122.3,140.38 122.4,136.65 122.5,135.73 122.5,135.50 122.8,135.77 122.9,136.17 123.0,136.63 123.0,137.39 123.1,138.57 123.1,140.21 123.2,142.25 123.2,144.47 123.3,146.52 123.3,147.99 123.4,148.55 123.4,148.08 123.5,146.70 123.5,144.75 123.6,142.66 123.6,140.76 123.7,139.25 123.7,138.22 123.8,137.71 123.8,137.74 123.9,138.27 123.9,139.32 124.0,140.88 124.0,142.87 124.1,145.04 124.1,147.05 124.2,148.49 124.2,149.04 124.3,148.58 124.3,147.22 124.4,145.30 124.4,143.21 124.5,141.31 124.5,139.83 124.6,138.87 124.6,138.43 124.7,138.50 124.7,139.05 124.8,140.12 124.8,141.71 124.9,143.73 124.9,145.96 125.0,148.01 125.0,149.48 125.1,150.04 125.1,149.56 125.2,148.17 125.2,146.20 125.3,144.07 125.3,142.12 125.4,140.60 125.4,139.61 125.5,139.17 125.5,139.30 125.6,140.04 125.6,141.46 125.7,143.53 125.8,148.48 125.8,150.34 125.9,151.07 125.9,150.49 126.0,148.84 126.0,146.70 126.1,144.75 126.1,143.58 126.2,143.55 126.2,144.84 126.3,147.42 126.3,151.11 126.4,155.53 126.4,160.12 126.5,164.19 126.5,167.00 126.6,168.03 126.6,167.08 126.7,164.35 126.7,160.36 126.8,151.37 126.9,147.53 126.9,144.54 127.0,142.42 127.0,141.05 127.1,140.24 127.1,139.81 127.2,139.61 127.3,139.58 127.4,140.00 127.4,140.23 127.5,140.23 127.6,139.88 127.7,139.89 127.9,140.16 128.2,140.30 128.6,140.63 128.6,140.80 128.7,141.54 128.8,141.76 128.9,141.86 128.9,142.32 129.0,143.13 129.1,146.44 129.2,147.22 129.2,147.53 129.3,147.30 129.3,146.61 129.5,143.58 129.5,142.83 129.6,142.30 129.6,141.95 129.7,141.66 130.1,141.89 130.6,142.38 130.7,142.58 131.0,142.60 132.3,143.70 132.3,143.82 132.4,144.07 132.4,144.45 132.5,144.71 132.5,144.62 132.6,144.13 132.7,144.14 132.8,144.85 132.9,144.74 133.0,144.35 133.2,144.46 133.7,144.88 133.8,145.25 134.0,145.12 135.5,146.38 135.7,146.96 135.7,146.95 135.8,146.68 136.0,146.75 136.2,146.99 136.3,147.45 136.3,147.89 136.4,148.55 136.4,149.46 136.5,150.61 136.6,153.28 136.6,154.47 136.7,155.30 136.7,155.62 136.8,155.38 136.8,154.63 136.9,153.52 137.0,151.01 137.0,149.94 137.1,149.12 137.1,148.54 137.2,148.18 137.3,147.88 137.5,147.96 137.7,148.16 137.8,148.34 137.9,149.18 137.9,149.45 138.0,149.40 138.1,149.10 138.1,149.26 138.2,149.73 138.2,150.50 138.4,153.48 138.4,154.15 138.5,154.42 138.5,154.23 138.6,153.61 138.7,150.88 138.8,150.18 138.8,149.70 138.9,149.41 139.0,149.20 139.1,149.35 139.2,149.71 139.3,149.57 139.4,149.45 141.8,151.42 141.9,151.67 142.0,151.95 142.0,152.40 142.1,153.08 142.1,154.04 142.2,156.51 142.3,157.65 142.3,158.46 142.4,158.78 142.4,158.53 142.5,157.77 142.6,154.40 142.7,153.54 142.7,152.94 142.8,152.58 142.9,152.31 142.9,152.33 143.0,152.54 143.0,153.06 143.1,153.75 143.1,154.04 143.2,153.67 143.2,153.07 143.3,152.69 143.4,152.60 143.9,153.02 144.1,153.51 144.2,153.81 144.2,154.32 144.3,155.02 144.4,156.67 144.4,157.29 144.5,157.54 144.5,157.36 144.6,156.82 144.7,155.33 144.7,154.71 144.8,154.27 144.8,154.02 144.9,153.86 146.0,154.72 146.1,155.06 146.2,155.43 146.2,155.99 146.3,156.77 146.4,158.60 146.4,159.28 146.5,159.56 146.5,159.36 146.6,158.75 146.7,157.08 146.7,156.38 146.8,155.90 146.8,155.61 146.9,155.42 148.0,156.24 148.1,156.53 148.1,156.84 148.2,157.35 148.2,158.08 148.3,159.94 148.5,163.41 148.5,164.20 148.6,164.51 148.6,164.28 148.7,163.58 148.7,162.55 148.8,160.20 148.9,159.18 148.9,158.39 149.0,157.84 149.0,157.50 149.1,157.22 149.4,157.35 150.6,158.42 150.7,158.65 150.7,158.87 150.8,159.22 150.8,159.72 150.9,160.43 150.9,161.39 151.0,162.59 151.1,165.19 151.1,166.12 151.2,166.54 151.2,166.37 151.3,165.69 151.4,162.65 151.5,161.92 151.5,161.47 151.6,161.28 151.6,161.27 151.7,161.60 151.9,162.77 152.2,164.64 152.5,167.73 152.7,169.28 152.7,169.97 152.8,170.90 152.8,172.24 152.9,174.23 152.9,177.21 153.0,181.45 153.0,187.08 153.1,194.12 153.1,202.38 153.2,211.37 153.2,220.16 153.3,227.60 153.3,232.62 153.4,234.41 153.4,232.70 153.5,227.75 153.5,220.38 153.6,211.68 153.6,202.87 153.7,194.92 153.7,188.24 153.8,182.74 153.8,178.34 153.9,175.16 153.9,173.10 154.0,171.79 154.0,170.93 154.1,170.32 154.2,169.48 154.4,167.90 154.4,167.62 154.5,167.66 154.6,168.57 154.6,168.39 154.7,167.70 154.7,167.26 154.8,167.26 154.8,167.52 154.9,167.94 154.9,167.90 155.0,166.85 155.0,165.33 155.1,164.25 155.1,163.73 155.2,163.34 155.5,162.77 156.0,162.52 156.8,162.84 157.0,163.08 157.1,163.45 157.2,164.20 157.4,166.58 157.4,166.98 157.5,167.14 157.5,167.04 157.6,166.71 157.8,164.60 157.9,163.98 158.0,163.75 158.2,163.78 158.3,164.21 158.4,164.27 158.5,164.03 159.5,164.69 159.5,164.82 159.6,165.39 159.7,165.56 159.8,165.12 160.1,165.15 160.2,165.36 160.3,165.65 160.3,166.23 160.4,167.30 160.4,169.14 160.5,172.01 160.5,176.04 160.6,181.07 160.6,186.56 160.7,191.62 160.7,195.23 160.8,196.56 160.8,195.30 160.9,191.76 160.9,186.77 161.0,181.35 161.0,176.39 161.1,172.43 161.1,169.63 161.2,167.86 161.2,166.86 161.3,166.36 161.3,166.15 161.4,166.16 161.5,166.33 161.5,166.68 161.6,167.33 161.6,168.47 161.7,170.35 161.7,173.20 161.8,177.19 161.8,182.29 161.9,188.16 161.9,194.18 162.0,199.47 162.0,203.12 162.1,204.45 162.1,203.19 162.2,199.61 162.2,194.39 162.3,188.44 162.3,182.64 162.4,177.61 162.4,173.69 162.5,170.91 162.5,169.10 162.6,168.03 162.6,167.45 162.7,167.17 162.8,167.03 163.5,167.53 163.7,167.83 163.8,168.09 163.9,169.13 163.9,169.13 164.0,168.19 164.1,167.97 164.4,168.10 166.4,169.53 166.5,169.64 166.5,170.03 166.6,171.04 166.6,172.60 166.7,173.63 166.7,173.12 166.8,171.65 166.8,170.49 166.9,170.01 166.9,169.93 167.1,170.22 167.2,170.71 167.4,172.20 167.4,172.45 167.5,172.55 167.5,172.52 167.6,172.36 167.8,171.12 167.9,170.78 168.0,170.67 169.0,171.34 169.1,171.44 169.1,171.67 169.2,172.38 169.3,172.35 169.4,171.76 169.5,171.64 169.6,171.82 169.6,172.19 169.7,173.51 169.8,173.54 169.9,172.36 169.9,172.06 170.1,172.05 171.2,172.91 171.3,173.17 171.4,173.41 171.4,173.78 171.5,174.31 171.5,175.04 171.6,175.98 171.7,179.51 171.8,180.47 171.8,181.11 171.9,181.37 171.9,181.18 172.0,180.57 172.0,179.64 172.2,176.39 172.2,175.53 172.3,174.88 172.3,174.41 172.4,174.12 172.5,173.86 172.8,173.94 173.1,174.25 173.2,174.31 173.3,174.46 173.4,175.00 173.4,175.04 173.5,174.66 173.6,174.57 173.9,174.76 173.9,174.88 174.0,175.22 174.1,176.54 174.1,176.67 174.2,175.65 174.3,175.62 174.4,176.22 174.4,176.06 174.5,175.40 174.6,175.35 174.7,175.48 174.7,175.82 174.8,176.93 174.9,176.94 174.9,176.55 175.0,176.28 175.1,176.46 175.2,176.24 175.3,175.98 175.5,176.10 176.7,177.37 177.3,178.26 177.4,178.54 177.4,178.80 177.5,179.22 177.5,179.92 177.6,181.09 177.6,182.95 177.7,185.78 177.7,189.89 177.8,195.53 177.8,202.81 177.9,211.60 177.9,221.48 178.0,231.72 178.0,241.38 178.1,249.36 178.1,254.64 178.2,256.51 178.2,254.70 178.3,249.49 178.3,241.57 178.4,231.96 178.4,221.75 178.5,211.93 178.5,203.21 178.6,196.02 178.6,190.47 178.7,186.43 178.7,183.66 178.8,181.87 178.8,180.77 178.9,180.13 178.9,179.77 179.0,179.48 179.6,179.32 179.9,179.34 180.0,179.42 180.0,179.69 180.1,180.37 180.1,181.42 180.2,182.31 180.2,182.32 180.3,181.43 180.3,180.35 180.4,179.66 180.5,178.89 180.5,178.38 180.6,177.72 180.7,175.99 180.8,174.22 180.8,173.66 180.9,173.47 180.9,173.70 181.0,174.30 181.1,176.14 181.1,177.10 181.2,177.94 181.2,178.59 181.3,179.07 181.4,179.58 181.6,179.87 181.8,180.09 181.9,180.63 182.1,181.93 182.2,182.15 182.2,182.24 182.3,182.20 182.4,181.78 182.5,180.95 182.7,180.57 183.0,180.64 183.3,180.89 183.5,181.52 183.5,181.44 183.6,181.08 184.0,181.14 184.1,180.95 184.2,180.72 184.2,180.35 184.3,179.81 184.4,178.31 184.5,176.77 184.5,176.27 184.6,176.11 184.6,176.34 184.7,176.92 184.8,179.44 184.9,180.17 184.9,180.77 185.0,181.20 185.1,181.68 185.3,181.97 185.6,182.24 185.6,182.40 185.7,182.68 185.7,183.22 185.8,184.15 185.8,185.69 185.9,188.02 185.9,191.29 186.0,195.45 186.1,205.17 186.1,209.50 186.2,212.49 186.2,213.57 186.3,212.55 186.3,209.62 186.4,205.36 186.5,195.75 186.5,191.65 186.6,188.45 186.6,186.17 186.7,184.70 186.7,183.83 186.8,183.36 186.8,183.14 186.9,183.08 187.0,183.20 187.0,183.46 187.1,183.93 187.1,184.70 187.2,185.89 187.2,187.54 187.3,189.62 187.3,191.89 187.4,193.99 187.4,195.49 187.5,196.06 187.5,195.55 187.6,194.11 187.6,192.09 187.7,189.90 187.7,187.90 187.8,186.30 187.8,185.14 187.9,184.40 187.9,183.99 188.0,183.79 188.1,183.72 189.1,184.38 189.2,184.61 189.3,185.64 189.3,185.79 189.4,185.07 189.5,185.02 189.5,185.32 189.6,185.92 189.6,186.86 189.7,188.16 189.7,189.82 189.8,193.68 189.9,195.40 189.9,196.59 190.0,197.04 190.0,196.65 190.1,195.52 190.1,193.86 190.2,190.13 190.3,188.54 190.3,187.32 190.4,186.45 190.4,185.87 190.5,185.53 190.6,185.28 190.9,185.40 191.0,185.59 191.0,185.81 191.1,186.20 191.1,186.87 191.2,187.98 191.2,189.66 191.3,192.01 191.3,195.00 191.4,201.99 191.5,205.09 191.5,207.24 191.6,208.03 191.6,207.30 191.7,205.22 191.7,202.19 191.8,195.32 191.9,192.38 191.9,190.09 192.0,188.47 192.0,187.42 192.1,186.80 192.1,186.47 192.2,186.26 192.8,186.54 192.9,186.85 193.0,187.77 193.1,187.94 193.1,187.88 193.2,187.30 193.3,187.32 193.3,187.62 193.4,188.16 193.4,188.91 193.5,189.86 193.6,192.08 193.6,193.07 193.7,193.76 193.7,194.02 193.8,193.82 193.8,193.19 193.9,192.26 194.0,190.16 194.0,189.26 194.1,188.57 194.1,188.09 194.2,187.79 194.2,187.68 194.3,187.79 194.4,188.50 194.4,188.49 194.5,187.81 194.6,187.66 196.3,188.64 196.4,188.95 196.5,189.50 196.6,190.52 196.8,192.43 196.8,192.85 196.9,193.02 196.9,192.91 197.0,192.56 197.2,190.35 197.3,189.67 197.4,189.39 197.6,189.40 197.7,189.69 197.7,189.94 197.8,190.07 197.9,189.69 198.0,189.79 198.1,190.39 198.1,190.46 198.2,189.99 198.3,189.83 198.7,190.06 198.8,190.52 198.9,190.52 199.0,190.25 199.1,190.29 199.1,190.49 199.2,191.11 199.3,193.65 199.3,193.99 199.4,192.60 199.5,191.41 199.6,190.92 199.6,190.68 199.8,190.69 200.1,190.87 200.2,191.30 200.3,191.32 200.4,191.07 200.5,191.16 200.6,191.40 200.6,192.01 200.7,192.89 200.7,193.40 200.8,193.10 200.8,192.51 200.9,192.31 200.9,192.62 201.1,194.51 201.1,195.05 201.2,195.45 201.2,195.61 201.3,195.50 201.3,195.14 201.5,192.86 201.6,192.46 201.7,192.01 201.8,191.88 202.3,192.13 202.4,192.40 202.5,192.78 202.6,192.38 203.1,192.62 203.3,192.87 203.4,193.31 203.5,194.09 203.6,195.56 203.7,195.88 203.7,196.01 203.8,195.93 203.8,195.67 204.0,194.00 204.1,193.51 204.3,193.30 205.8,194.18 205.9,194.40 206.0,195.34 206.0,195.45 206.1,194.65 206.2,194.40 206.3,194.37 206.4,194.54 206.5,194.85 206.5,195.33 206.6,195.65 206.6,195.49 206.7,194.72 206.8,194.59 207.0,194.99 207.1,194.98 207.1,195.14 207.2,195.96 207.2,197.93 207.3,204.32 207.4,205.74 207.4,204.33 207.5,197.93 207.6,195.97 207.6,195.14 207.7,194.95 207.7,195.22 207.8,196.25 207.8,198.65 207.9,206.47 208.0,208.20 208.0,206.47 208.1,198.64 208.2,196.24 208.2,195.19 208.3,194.87 208.3,194.82 208.4,194.92 208.4,195.24 208.5,196.15 208.5,198.28 208.6,201.76 208.6,205.38 208.7,206.96 208.7,205.36 208.8,198.18 208.9,195.97 208.9,195.02 209.0,194.77 209.0,194.98 209.1,195.89 209.1,198.00 209.2,204.94 209.3,206.48 209.3,204.93 209.4,197.95 209.5,195.81 209.5,194.88 209.6,194.58 209.6,194.52 209.7,194.59 209.7,194.90 209.8,195.88 209.8,198.12 209.9,205.43 210.0,207.06 210.0,205.45 210.1,198.16 210.2,195.94 210.2,195.00 210.3,194.81 210.3,195.20 210.4,196.62 210.4,199.89 210.5,205.14 210.5,210.56 210.6,212.94 210.6,210.61 210.7,205.25 210.7,200.04 210.8,196.82 210.8,195.45 210.9,195.10 210.9,195.32 211.0,196.26 211.0,198.41 211.1,205.40 211.2,206.98 211.2,205.47 211.3,198.60 211.4,196.52 211.4,195.66 211.5,195.58 211.5,196.33 211.6,198.84 211.6,204.57 211.7,213.78 211.7,223.27 211.8,227.44 211.8,223.34 211.9,213.92 211.9,204.78 212.0,199.11 212.0,196.67 212.1,195.92 212.1,195.78 212.3,195.95 212.3,196.26 212.4,197.14 212.4,199.09 212.5,205.39 212.6,206.83 212.6,205.51 212.7,199.45 212.8,197.62 212.8,196.87 212.9,196.68 213.0,196.84 213.1,196.98 213.1,197.29 213.2,198.12 213.2,199.93 213.3,205.73 213.4,207.06 213.4,205.89 213.5,200.40 213.6,198.75 213.6,198.07 213.7,197.90 213.9,198.15 213.9,198.36 214.0,198.87 214.0,199.95 214.1,203.42 214.2,204.22 214.2,203.53 214.3,200.28 214.4,199.30 214.4,198.90 214.5,198.82 214.7,199.03 214.8,199.21 214.8,199.57 214.9,200.69 215.0,200.96 215.0,200.76 215.1,199.77 215.2,199.50 215.2,199.50 215.3,199.95 215.4,199.97 215.5,199.58 215.6,199.52 215.8,199.75 216.1,199.78 217.0,200.31 217.1,200.71 217.1,200.94 217.2,200.96 217.3,200.58 217.4,200.49 217.8,200.79 217.9,201.13 218.0,201.52 218.0,202.13 218.1,202.98 218.2,204.97 218.2,205.72 218.3,206.01 218.3,205.77 218.4,205.08 218.5,203.19 218.5,202.40 218.6,201.83 218.6,201.46 218.8,200.77 218.8,200.39 218.9,199.23 219.0,198.61 219.0,198.16 219.1,198.01 219.1,198.21 219.2,198.72 219.3,200.07 219.3,200.65 219.4,201.06 219.5,201.49 219.8,201.76 221.9,202.90 222.0,203.00 222.0,203.28 222.1,204.45 222.2,204.57 222.3,203.54 222.3,203.23 222.4,203.15 223.4,203.72 223.5,203.97 223.6,204.26 223.6,204.76 223.7,205.60 223.7,206.93 223.8,208.90 223.8,211.64 223.9,215.16 223.9,219.36 224.0,228.37 224.1,232.14 224.1,234.69 224.2,235.61 224.2,234.74 224.3,232.25 224.3,228.52 224.4,219.61 224.5,215.47 224.5,212.00 224.6,209.32 224.6,207.40 224.7,206.12 224.7,205.33 224.8,204.88 224.8,204.64 225.0,204.49 229.0,206.51 233.0,208.51 235.0,209.56 235.2,209.89 235.3,210.43 235.5,212.11 235.5,212.40 235.6,212.51 235.6,212.44 235.7,211.86 235.9,210.72 236.0,210.28 236.1,210.10 240.1,212.00 244.1,213.92 248.1,215.88 249.5,216.74 250.0,217.33 250.4,218.08 250.7,219.08 251.0,220.53 251.3,222.41 251.8,226.51 251.9,226.97 251.9,227.56 252.0,228.38 252.0,229.58 252.1,231.37 252.1,233.95 252.2,237.44 252.2,241.82 252.3,251.89 252.4,256.33 252.4,259.40 252.5,260.50 252.5,259.44 252.6,256.42 252.6,252.02 252.7,242.04 252.8,237.71 252.8,234.26 252.9,231.73 252.9,229.99 253.0,228.83 253.0,228.05 253.1,227.51 253.3,226.07 253.7,223.20 254.0,221.65 254.3,220.55 254.6,219.88 255.0,219.48 255.7,219.43 257.1,219.95 257.3,220.21 257.4,220.70 257.4,221.12 257.5,221.69 257.5,222.42 257.6,224.30 257.7,226.30 257.8,227.11 257.8,227.65 257.9,227.85 257.9,227.69 258.0,227.19 258.0,226.42 258.2,223.55 258.2,222.71 258.3,222.02 258.3,221.49 258.4,221.11 258.5,220.70 258.7,220.56 262.7,222.23 263.2,222.53 263.3,222.83 263.3,223.16 263.4,223.72 263.4,224.61 263.5,225.99 263.5,227.99 263.6,230.74 263.6,234.28 263.7,238.58 263.7,243.42 263.8,248.46 263.8,253.20 263.9,257.11 263.9,259.70 264.0,260.62 264.0,259.75 264.1,257.20 264.1,253.32 264.2,248.62 264.2,243.63 264.3,238.83 264.3,234.58 264.4,231.07 264.4,228.37 264.5,226.41 264.5,225.08 264.6,224.22 264.6,223.71 264.7,223.42 264.8,223.20 265.6,223.48 269.6,225.15 271.0,225.76 271.1,226.07 271.4,227.44 271.5,227.48 271.7,226.92 271.8,226.36 272.0,226.18 276.0,227.76 278.8,228.97 278.9,229.25 279.1,229.84 279.3,230.85 279.4,231.07 279.5,230.94 279.8,229.75 279.9,229.51 280.4,229.65 281.3,230.18 281.4,230.37 281.5,230.58 281.5,230.93 281.6,231.51 281.6,232.43 281.7,233.85 281.7,235.91 281.8,238.73 281.8,242.38 281.9,246.79 281.9,251.76 282.0,256.92 282.0,261.79 282.1,265.80 282.1,268.46 282.2,269.40 282.2,268.50 282.3,265.88 282.3,261.91 282.4,257.08 282.4,251.95 282.5,247.02 282.5,242.65 282.6,239.05 282.6,236.26 282.7,234.24 282.7,232.86 282.8,231.98 282.8,231.43 282.9,231.13 283.0,230.88 283.6,230.92 287.1,232.17 287.3,232.40 287.3,232.61 287.4,232.94 287.4,233.46 287.5,234.23 287.5,235.30 287.6,236.67 287.6,238.30 287.7,241.80 287.8,243.26 287.8,244.26 287.9,244.62 287.9,244.29 288.0,243.34 288.0,241.91 288.1,238.49 288.2,236.90 288.2,235.56 288.3,234.53 288.3,233.80 288.4,233.32 288.4,233.02 288.5,232.77 289.0,232.86 293.0,234.36 297.0,235.84 301.0,237.29 305.0,238.71 309.0,240.11 313.0,241.49 317.0,242.83 320.1,243.92 320.3,244.35 320.5,244.95 320.6,244.98 320.9,244.31 321.2,244.22 325.2,245.51 329.2,246.79 329.6,247.02 329.8,247.53 329.9,247.95 330.0,247.98 330.3,247.33 330.6,247.24 334.6,248.48 338.6,249.70 342.6,250.91 346.6,252.09 350.6,253.25 354.6,254.40 356.5,254.98 356.6,255.17 356.6,255.39 356.7,255.74 356.7,256.30 356.8,257.13 356.8,258.27 356.9,259.75 356.9,261.50 357.0,265.27 357.1,266.85 357.1,267.92 357.2,268.30 357.2,267.94 357.3,266.90 357.3,265.35 357.4,261.64 357.5,259.91 357.5,258.47 357.6,257.35 357.6,256.55 357.7,256.02 357.7,255.70 357.8,255.42 358.2,255.42 362.2,256.53 366.2,257.61 370.2,258.68 372.7,259.37 372.8,259.52 372.9,259.95 373.1,261.16 373.1,261.47 373.2,261.60 373.2,261.50 373.3,260.81 373.4,260.08 373.5,259.70 373.7,259.60 374.4,259.83 374.5,260.07 374.6,260.63 374.7,261.40 374.7,261.69 374.8,261.80 374.8,261.71 374.9,261.10 375.0,260.44 375.1,260.10 375.4,260.03 379.4,261.06 383.4,262.07 387.4,263.06 390.8,263.94 390.9,264.16 390.9,264.41 391.0,264.80 391.0,265.41 391.1,266.25 391.1,267.32 391.2,269.83 391.3,270.95 391.3,271.72 391.4,272.00 391.4,271.74 391.5,270.99 391.5,269.90 391.6,267.45 391.7,266.40 391.7,265.58 391.8,265.00 391.8,264.62 391.9,264.29 392.2,264.24 396.2,265.19 400.2,266.13 404.2,267.06 406.5,267.64 406.6,267.99 406.8,268.85 406.9,269.50 406.9,269.72 407.0,269.80 407.0,269.74 407.1,269.27 407.3,268.36 407.4,268.01 407.5,267.85 407.7,267.99 407.8,268.29 408.0,269.20 408.1,269.89 408.1,270.11 408.2,270.20 408.2,270.14 408.3,269.63 408.5,268.67 408.6,268.29 408.8,268.11 410.5,268.41 410.7,268.18 410.9,267.43 411.0,267.45 411.3,268.44 411.5,268.69 415.5,269.59 419.5,270.45 423.5,271.31 427.5,272.15 430.6,272.82 430.7,273.02 430.7,273.24 430.8,273.59 430.8,274.13 430.9,274.88 430.9,275.84 431.0,278.07 431.1,279.06 431.1,279.75 431.2,280.00 431.2,279.77 431.3,279.10 431.3,278.13 431.4,275.94 431.5,275.00 431.5,274.27 431.6,273.76 431.6,273.42 431.7,273.12 432.1,273.08 432.8,273.29 432.9,273.48 433.0,273.95 433.1,274.83 433.3,276.51 433.3,276.87 433.4,277.00 433.4,276.89 433.5,276.55 433.7,274.46 433.8,273.83 433.9,273.56 434.2,273.52 438.2,274.32 442.2,275.11 444.6,275.63 444.7,275.84 444.8,276.09 444.8,276.55 444.9,277.33 444.9,278.56 445.0,280.40 445.0,282.96 445.1,286.26 445.1,290.19 445.2,298.63 445.3,302.17 445.3,304.55 445.4,305.40 445.4,304.57 445.5,302.21 445.5,298.69 445.6,290.29 445.7,286.38 445.7,283.10 445.8,280.56 445.8,278.74 445.9,277.52 445.9,276.76 446.0,276.32 446.1,275.97 446.4,275.93 450.4,276.69 454.4,277.45 458.4,278.19 462.4,278.91 466.4,279.63 470.4,280.34 474.4,281.03 478.4,281.72 482.4,282.39 486.4,283.05 490.4,283.70 494.4,284.34 498.4,284.98 502.4,285.60 506.4,286.21 510.4,286.81 514.4,287.41 518.4,287.99 522.4,288.57 526.4,289.14 527.5,289.36 528.0,289.90 528.6,289.47 532.6,289.99 536.6,290.54 540.6,291.08 544.6,291.61 545.5,291.80 546.0,292.34 546.6,291.90 550.6,292.39 554.6,292.90 557.4,293.30 558.0,293.87 558.6,293.43 562.6,293.89 566.6,294.38 568.9,294.71 569.0,294.99 569.2,295.66 569.3,296.34 569.4,296.35 569.6,295.71 569.7,295.07 569.9,294.83 573.9,295.26 575.1,295.45 575.2,295.64 575.3,296.18 575.4,297.22 575.5,298.43 575.5,298.85 575.6,299.00 575.6,298.86 575.7,298.45 575.8,296.65 575.9,295.74 576.2,294.24 576.3,294.00 576.4,294.25 576.6,295.24 576.7,295.54 580.7,296.05 584.7,296.51 588.7,296.96 592.7,297.40 596.7,297.84 597.5,297.98 597.6,298.19 597.6,298.43 597.7,298.83 597.7,299.48 597.8,300.45 597.8,301.80 597.9,303.53 597.9,305.60 598.0,310.04 598.1,311.90 598.1,313.15 598.2,313.60 598.2,313.17 598.3,311.92 598.3,310.07 598.4,305.65 598.5,303.60 598.5,301.87 598.6,300.54 598.6,299.58 598.7,298.94 598.7,298.55 598.8,298.19 599.1,298.10 603.1,298.53 607.1,298.95 609.4,299.24 610.0,299.79 610.6,299.34 614.6,299.72 618.6,300.12 621.4,300.45 622.0,301.01 622.6,300.55 626.6,300.91 630.6,301.30 634.6,301.68 638.5,302.09 638.6,302.34 638.9,303.54 639.0,303.55 639.2,302.98 639.3,302.40 639.5,302.17 643.5,302.52 645.5,302.77 646.0,303.29 646.6,302.82 650.6,303.15 654.6,303.51 656.5,303.75 657.0,304.27 657.6,303.81 659.9,304.03 660.5,304.58 661.1,304.11 665.1,304.42 665.5,304.57 666.0,305.05 666.6,304.58 670.6,304.89 670.9,305.03 671.1,305.32 671.2,305.74 671.3,306.47 671.4,307.61 671.5,309.22 671.6,311.23 671.7,314.47 671.8,315.44 671.8,316.25 671.9,316.87 671.9,317.26 672.0,317.40 672.0,317.27 672.1,316.89 672.1,316.28 672.2,315.47 672.3,313.47 672.4,310.26 672.5,308.45 672.6,307.09 672.7,306.19 672.8,305.64 673.0,305.26 673.3,305.12 677.3,305.44 681.3,305.77 685.3,306.09 689.3,306.41 692.9,306.74 693.0,307.00 693.2,307.67 693.3,308.34 693.4,308.35 693.6,307.70 693.7,307.06 693.9,306.81 697.9,307.07 699.5,307.26 700.0,307.78 700.6,307.30 704.6,307.57 708.6,307.87 712.1,308.17 712.3,308.35 712.4,308.68 712.5,309.32 712.6,310.36 712.7,312.55 712.8,313.99 712.9,314.53 712.9,314.88 713.0,315.00 713.0,314.88 713.1,314.54 713.1,314.01 713.3,311.82 713.4,310.42 713.5,309.39 713.6,308.77 713.7,308.37 714.1,308.27 718.1,308.56 722.1,308.84 726.1,309.12 727.5,309.29 728.0,309.80 728.6,309.32 732.6,309.56 736.6,309.83 739.4,310.07 740.0,310.61 740.6,310.13 744.6,310.36 748.6,310.62 751.5,310.86 751.7,311.14 751.9,311.57 752.1,311.51 752.4,310.95 753.3,310.92 757.3,311.17 759.4,311.36 760.0,311.89 760.6,311.41 764.6,311.63 768.6,311.87 771.5,312.08 771.7,312.38 771.9,313.16 772.0,313.16 772.3,312.30 772.6,312.12 775.9,312.36 776.1,312.68 776.3,313.17 776.5,313.09 776.7,312.51 777.0,312.38 781.0,312.61 785.0,312.84 787.5,313.04 787.7,313.41 787.9,313.96 788.0,313.97 788.3,313.21 788.6,313.05 792.6,313.26 796.6,313.49 799.4,313.69 800.0,314.22 800.6,313.74 804.6,313.92 808.6,314.14 812.6,314.35 814.5,314.51 814.7,314.85 814.9,315.37 815.0,315.37 815.3,314.66 815.6,314.51 819.6,314.71 823.6,314.92 827.6,315.12 829.5,315.29 830.0,315.79 830.6,315.30 834.6,315.46 838.6,315.66 842.6,315.85 846.6,316.04 849.5,316.18" stroke="#0000ff" stroke-width="1.3"/>
</g>
<path d="M88.50 344.50v-4.44M88.50 33.50v4.44M183.50 344.50v-4.44M183.50 33.50v4.44M279.50 344.50v-4.44M279.50 33.50v4.44M374.50 344.50v-4.44M374.50 33.50v4.44M469.50 344.50v-4.44M469.50 33.50v4.44M564.50 344.50v-4.44M564.50 33.50v4.44M659.50 344.50v-4.44M659.50 33.50v4.44M754.50 344.50v-4.44M754.50 33.50v4.44M50.50 335.50h4.44M849.50 335.50h-4.44M50.50 277.50h4.44M849.50 277.50h-4.44M50.50 219.50h4.44M849.50 219.50h-4.44M50.50 160.50h4.44M849.50 160.50h-4.44M50.50 102.50h4.44M849.50 102.50h-4.44M50.50 44.50h4.44M849.50 44.50h-4.44" stroke="#000" stroke-width="0.56" fill="none"/>
<rect x="50.50" y="33.50" width="799.00" height="311.00" fill="none" stroke="#000" stroke-width="1.11"/>
<g font-family="'DejaVu Sans', 'Liberation Sans', sans-serif" font-size="12.8" fill="#000">
<text x="88.50" y="358.3" text-anchor="middle">4000</text>
<text x="183.50" y="358.3" text-anchor="middle">4500</text>
<text x="279.50" y="358.3" text-anchor="middle">5000</text>
<text x="374.50" y="358.3" text-anchor="middle">5500</text>
<text x="469.50" y="358.3" text-anchor="middle">6000</text>
<text x="564.50" y="358.3" text-anchor="middle">6500</text>
<text x="659.50" y="358.3" text-anchor="middle">7000</text>
<text x="754.50" y="358.3" text-anchor="middle">7500</text>
<text x="849.50" y="358.3" text-anchor="middle">8000</text>
<text x="47.5" y="338.90" text-anchor="end">0</text>
<text x="47.5" y="280.90" text-anchor="end">1</text>
<text x="47.5" y="221.80" text-anchor="end">2</text>
<text x="47.5" y="164.00" text-anchor="end">3</text>
<text x="47.5" y="105.90" text-anchor="end">4</text>
<text x="47.5" y="46.90" text-anchor="end">5</text>
<text x="48.7" y="30.0" letter-spacing="0.22">1e−10</text>
<text x="450" y="381.4" text-anchor="middle" font-size="13.33">Wavelength [ <tspan font-size="13" stroke="#000" stroke-width="0.3" font-family="'Liberation Serif', 'DejaVu Serif', serif">Å</tspan> ]</text>
<text transform="translate(27.6 188.6) rotate(-90)" text-anchor="middle" font-size="13.33">Flux at 1 kpc [ erg/s/cm<tspan font-size="9.33" dy="-5.2">2</tspan><tspan dy="5.2"> /</tspan><tspan font-size="13" stroke="#000" stroke-width="0.3" font-family="'Liberation Serif', 'DejaVu Serif', serif">Å</tspan> ]</text>
<text x="340.0" y="27.5" font-size="16">model1954: L/L<tspan font-size="11.2" dx="1.1" dy="5.3" fill="#444">⊙</tspan><tspan dx="0.6" dy="-5.3"> = 396100</tspan></text>
</g>
</svg>
</body></html>
